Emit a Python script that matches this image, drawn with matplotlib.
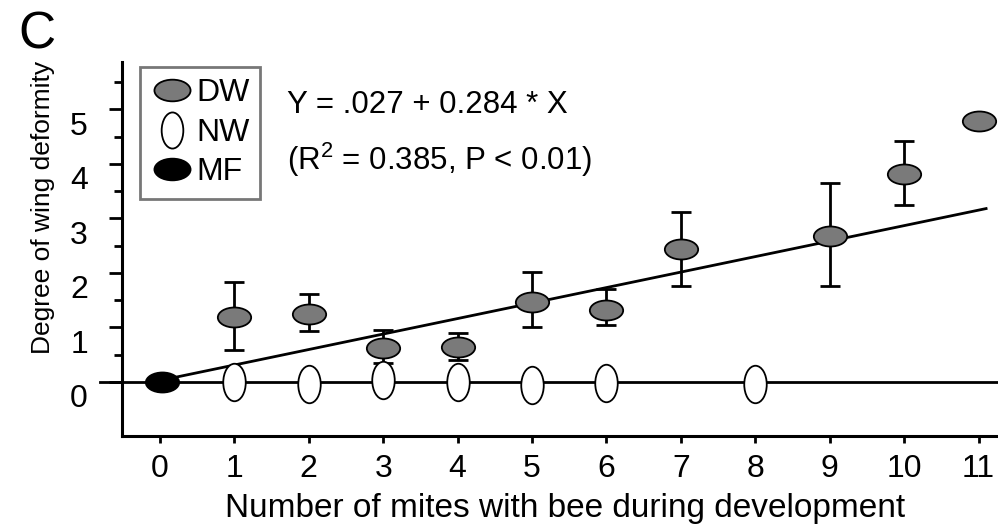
import matplotlib
matplotlib.use("Agg")
import matplotlib.pyplot as plt
import numpy as np
from matplotlib.path import Path
from matplotlib.transforms import Affine2D, ScaledTranslation
from matplotlib.lines import Line2D

plt.rcParams["font.family"] = ["Liberation Sans", "DejaVu Sans"]
plt.rcParams["mathtext.fontset"] = "custom"
plt.rcParams["mathtext.rm"] = "Liberation Sans"

# deformed-wing bees: mean degree of deformity with error bars
dw_x = [1, 2, 3, 4, 5, 6, 7, 9, 10, 11]
dw_y = [1.20, 1.24, 0.62, 0.65, 1.47, 1.32, 2.44, 2.67, 3.81, 4.78]
dw_hi = [1.83, 1.61, 0.95, 0.90, 2.01, 1.70, 3.11, 3.65, 4.41, 4.78]
dw_lo = [0.59, 0.94, 0.35, 0.40, 1.01, 1.05, 1.76, 1.76, 3.25, 4.78]

# normal-wing bees
nw_x = [1, 2, 3, 4, 5, 6, 8]
nw_y = [0.0, -0.04, 0.04, 0.0, -0.05, -0.02, -0.04]

# mite-free
mf_x = [0.03]
mf_y = [0.0]

fit_a, fit_b = 0.027, 0.284
fit_x = [0, 11.1]

xticks = list(range(12))
yticks = list(range(6))

# ellipse markers
wide = Path.unit_circle().transformed(Affine2D().scale(1.0, 0.6))
tall = Path.unit_circle().transformed(Affine2D().scale(0.6, 1.0))

fig = plt.figure(figsize=(9.98, 5.24), dpi=100)
ax = fig.add_axes([0.1222, 0.168, 0.8778, 0.714])

ax.axhline(0, xmin=-0.025, xmax=1, color="black", lw=2.0, clip_on=False, zorder=1)
fx = np.array(fit_x)
ax.plot(fx, fit_a + fit_b * fx, color="black", lw=2.0, zorder=2)

dw_y = np.array(dw_y)
err = [dw_y - np.array(dw_lo), np.array(dw_hi) - dw_y]
ax.errorbar(dw_x, dw_y, yerr=err, fmt="none", ecolor="black", elinewidth=2.0,
            capsize=7, capthick=2.0, zorder=3)
ax.plot(dw_x, dw_y, linestyle="none", marker=wide, markersize=24,
        markerfacecolor="#7a7a7a", markeredgecolor="black", markeredgewidth=1.3, zorder=4)
ax.plot(nw_x, nw_y, linestyle="none", marker=tall, markersize=27,
        markerfacecolor="white", markeredgecolor="black", markeredgewidth=1.3, zorder=4)
ax.plot(mf_x, mf_y, linestyle="none", marker=wide, markersize=24,
        markerfacecolor="black", markeredgecolor="black", markeredgewidth=1.3, zorder=5)

ax.set_xlim(-0.51, 11.26)
ax.set_ylim(-0.99, 5.87)
ax.set_xticks(xticks)
ax.set_yticks(yticks)
ax.set_yticks(np.arange(0.5, 5.6, 1.0), minor=True)
ax.tick_params(axis="x", direction="out", width=2.0, length=5, labelsize=23, pad=8)
ax.tick_params(axis="y", which="major", direction="out", width=2.0, length=9.5,
               labelsize=23, pad=15)
ax.tick_params(axis="y", which="minor", direction="out", width=2.0, length=6)

# y tick labels sit a little below their ticks
shift = ScaledTranslation(0, -0.14, fig.dpi_scale_trans)
for t in ax.yaxis.get_major_ticks():
    t.label1.set_transform(t.label1.get_transform() + shift)

for s in ["top", "right"]:
    ax.spines[s].set_visible(False)
for s in ["left", "bottom"]:
    ax.spines[s].set_linewidth(2.2)

ax.set_xlabel("Number of mites with bee during development", fontsize=24, va="baseline")
ax.xaxis.set_label_coords(0.506, -0.2166)
ax.set_ylabel("Degree of wing deformity", fontsize=19, va="baseline")
ax.yaxis.set_label_coords(-0.0822, 0.61)

handles = [
    Line2D([], [], linestyle="none", marker=wide, markersize=26,
           markerfacecolor="#7a7a7a", markeredgecolor="black", markeredgewidth=1.3),
    Line2D([], [], linestyle="none", marker=tall, markersize=26,
           markerfacecolor="white", markeredgecolor="black", markeredgewidth=1.3),
    Line2D([], [], linestyle="none", marker=wide, markersize=26,
           markerfacecolor="black", markeredgecolor="black", markeredgewidth=1.3),
]
leg = ax.legend(handles, ["DW", "NW", "MF"], loc="upper left",
                bbox_to_anchor=(140 / 998, 1 - 67 / 524), bbox_transform=fig.transFigure,
                fontsize=23, frameon=True, fancybox=False, handlelength=1.3,
                handletextpad=0.1, borderpad=0.35, labelspacing=0.3,
                borderaxespad=0)
leg.get_frame().set_edgecolor("#555555")
leg.get_frame().set_linewidth(2.0)

fig.text(287 / 998, 1 - 105 / 524, "Y = .027 + 0.284 * X", fontsize=22.5, va="center")
fig.text(287 / 998, 1 - 160 / 524, "(R$^2$ = 0.385, P < 0.01)", fontsize=22.5, va="center")
fig.text(18 / 998, 1 - 35 / 524, "C", fontsize=37, va="center")

fig.savefig("out.png", dpi=100)
